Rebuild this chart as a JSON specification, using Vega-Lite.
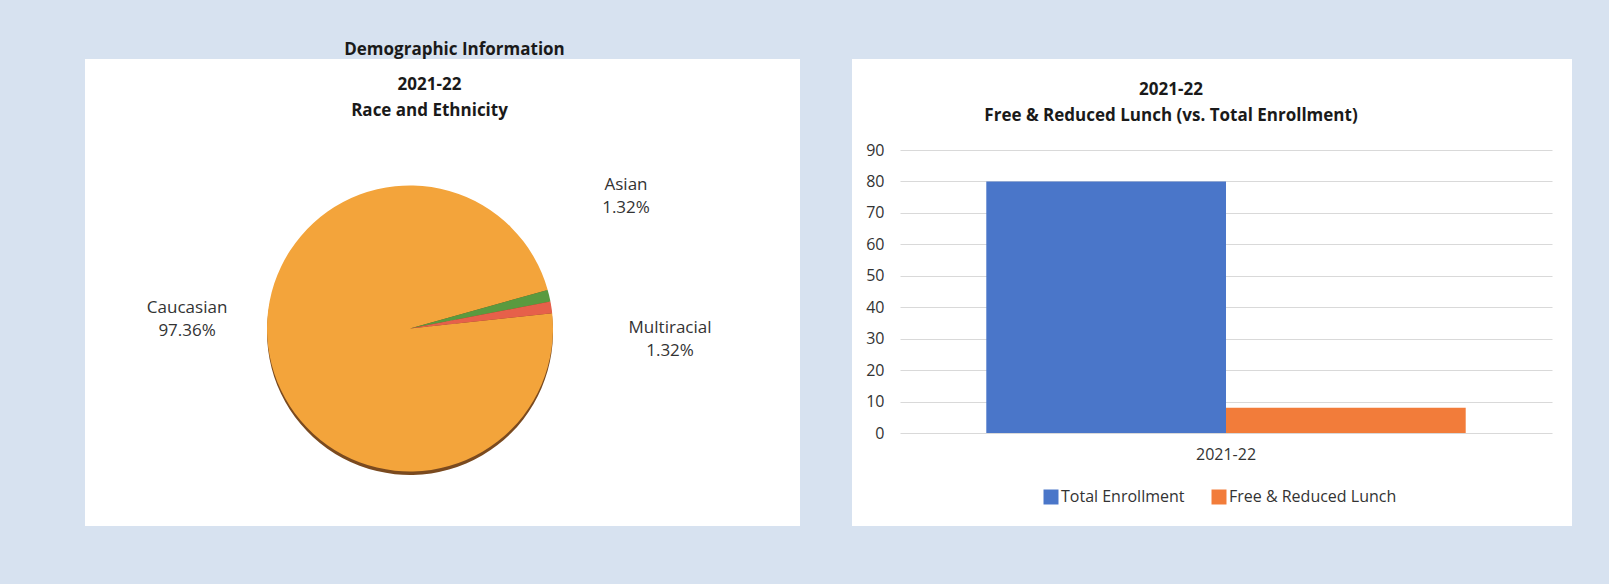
{
  "$schema": "https://vega.github.io/schema/vega-lite/v6.json",
  "background": "#d7e2f0",
  "padding": {"left": 85, "top": 41, "right": 37, "bottom": 59},
  "autosize": {"type": "pad"},
  "config": {
    "font": "Open Sans",
    "view": {"stroke": null},
    "concat": {"spacing": 52}
  },
  "resolve": {"scale": {"color": "independent"}, "legend": {"color": "independent"}},
  "title": {
    "text": "Demographic Information",
    "fontSize": 17,
    "fontWeight": "bold",
    "color": "#1a1a1a",
    "anchor": "middle",
    "dx": -374,
    "offset": 0
  },
  "hconcat": [
    {
      "width": 715,
      "height": 467,
      "view": {"fill": "white", "stroke": null},
      "title": {
        "text": ["2021-22", "Race and Ethnicity"],
        "fontSize": 17,
        "fontWeight": "bold",
        "lineHeight": 26,
        "color": "#1a1a1a",
        "anchor": "middle",
        "dx": -13,
        "offset": -61
      },
      "data": {
        "values": [
          {"race": "Caucasian", "share": 0.9736},
          {"race": "Asian", "share": 0.0132},
          {"race": "Multiracial", "share": 0.0132}
        ]
      },
      "encoding": {
        "theta": {"field": "share", "type": "quantitative", "stack": true, "scale": {"range": [1.3806, 7.6638]}},
        "order": {"field": "race", "sort": "descending"},
        "detail": {"field": "race"}
      },
      "layer": [
        {"mark": {"type": "arc", "radius": 143, "fill": "#7a4a1f", "xOffset": -32.5, "yOffset": 39.5}},
        {
          "mark": {"type": "arc", "radius": 143, "xOffset": -32.5, "yOffset": 36},
          "encoding": {
            "color": {
              "field": "race",
              "type": "nominal",
              "scale": {"domain": ["Caucasian", "Asian", "Multiracial"], "range": ["#f3a43b", "#5a9a3f", "#e6604a"]},
              "legend": null
            }
          }
        },
        {
          "mark": {"type": "text", "radius": 249.5, "thetaOffset": -0.316, "dy": -11.5, "fontSize": 17, "color": "#333333", "xOffset": -29.5, "yOffset": 33.5},
          "encoding": {"text": {"field": "race"}, "opacity": {"condition": {"test": "datum.race === 'Asian'", "value": 1}, "value": 0}}
        },
        {
          "mark": {"type": "text", "radius": 249.5, "thetaOffset": -0.316, "dy": 11.5, "fontSize": 17, "color": "#333333", "xOffset": -29.5, "yOffset": 33.5},
          "encoding": {"text": {"field": "share", "type": "quantitative", "format": ".2%"}, "opacity": {"condition": {"test": "datum.race === 'Asian'", "value": 1}, "value": 0}}
        },
        {
          "mark": {"type": "text", "radius": 257.4, "thetaOffset": 0.201, "dy": -11.5, "fontSize": 17, "color": "#333333", "xOffset": -29.5, "yOffset": 33.5},
          "encoding": {"text": {"field": "race"}, "opacity": {"condition": {"test": "datum.race === 'Multiracial'", "value": 1}, "value": 0}}
        },
        {
          "mark": {"type": "text", "radius": 257.4, "thetaOffset": 0.201, "dy": 11.5, "fontSize": 17, "color": "#333333", "xOffset": -29.5, "yOffset": 33.5},
          "encoding": {"text": {"field": "share", "type": "quantitative", "format": ".2%"}, "opacity": {"condition": {"test": "datum.race === 'Multiracial'", "value": 1}, "value": 0}}
        },
        {
          "mark": {"type": "text", "radius": 226, "thetaOffset": 0.218, "dy": -11.5, "fontSize": 17, "color": "#333333", "xOffset": -29.5, "yOffset": 33.5},
          "encoding": {"text": {"field": "race"}, "opacity": {"condition": {"test": "datum.race === 'Caucasian'", "value": 1}, "value": 0}}
        },
        {
          "mark": {"type": "text", "radius": 226, "thetaOffset": 0.218, "dy": 11.5, "fontSize": 17, "color": "#333333", "xOffset": -29.5, "yOffset": 33.5},
          "encoding": {"text": {"field": "share", "type": "quantitative", "format": ".2%"}, "opacity": {"condition": {"test": "datum.race === 'Caucasian'", "value": 1}, "value": 0}}
        }
      ]
    },
    {
      "width": 720,
      "height": 467,
      "view": {"fill": "white", "stroke": null},
      "title": {
        "text": ["2021-22", "Free & Reduced Lunch (vs. Total Enrollment)"],
        "fontSize": 17,
        "fontWeight": "bold",
        "lineHeight": 26,
        "color": "#1a1a1a",
        "anchor": "middle",
        "dx": -41,
        "offset": -66
      },
      "data": {
        "values": [
          {"year": "2021-22", "series": "Total Enrollment", "count": 80},
          {"year": "2021-22", "series": "Free & Reduced Lunch", "count": 8}
        ]
      },
      "mark": {"type": "bar"},
      "encoding": {
        "x": {
          "field": "year",
          "type": "nominal",
          "scale": {"range": [48, 700], "paddingInner": 0, "paddingOuter": 0.18},
          "axis": {"title": null, "labelAngle": 0, "domain": false, "ticks": false, "grid": false, "offset": -93, "labelPadding": 13, "labelFontSize": 16, "labelColor": "#333333"}
        },
        "xOffset": {
          "field": "series",
          "type": "nominal",
          "sort": ["Total Enrollment", "Free & Reduced Lunch"],
          "scale": {"paddingInner": 0, "paddingOuter": 0}
        },
        "y": {
          "field": "count",
          "type": "quantitative",
          "scale": {"domain": [0, 90], "range": [374, 91], "nice": false, "zero": true},
          "axis": {"title": null, "values": [0, 10, 20, 30, 40, 50, 60, 70, 80, 90], "domain": false, "ticks": false, "offset": -48, "labelPadding": 16, "labelFontSize": 16, "labelColor": "#333333", "gridColor": "#d9d9d9", "gridWidth": 1}
        },
        "color": {
          "field": "series",
          "type": "nominal",
          "sort": ["Total Enrollment", "Free & Reduced Lunch"],
          "scale": {"domain": ["Total Enrollment", "Free & Reduced Lunch"], "range": ["#4a76c9", "#f27c3a"]},
          "legend": {"orient": "none", "legendX": 191, "legendY": 430, "direction": "horizontal", "title": null, "symbolType": "square", "symbolSize": 225, "symbolStrokeWidth": 0, "labelFontSize": 16, "labelColor": "#333333", "labelLimit": 400, "columnPadding": 26, "labelOffset": 2}
        }
      }
    }
  ]
}
